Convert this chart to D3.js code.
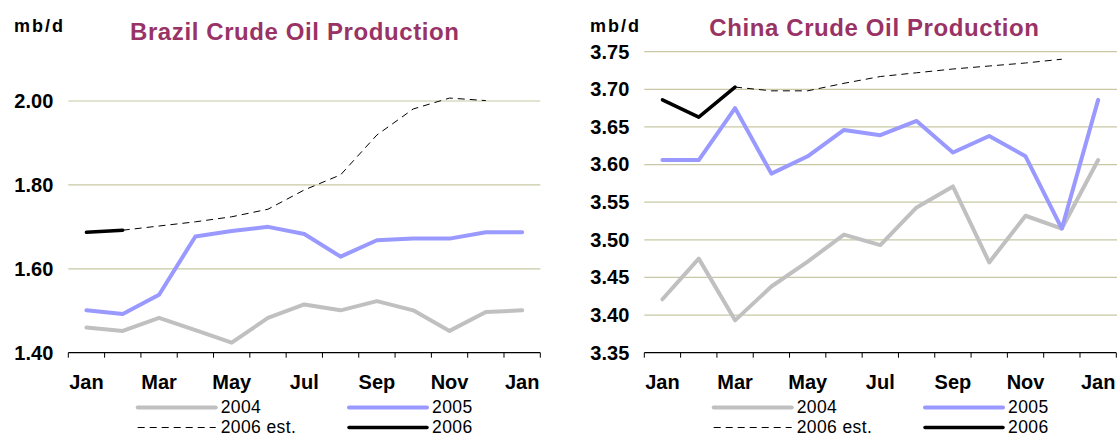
<!DOCTYPE html>
<html>
<head>
<meta charset="utf-8">
<script src="https://cdn.jsdelivr.net/npm/d3@7"></script>
<style>
  body { margin: 0; background: #fff; }
  svg { display: block; font-family: "Liberation Sans", Arial, sans-serif; }
</style>
</head>
<body>
<svg width="1117" height="437"></svg>
<script>
// month labels, Jan ... Jan of next year
const months = ["Jan", "Feb", "Mar", "Apr", "May", "Jun", "Jul", "Aug", "Sep", "Oct", "Nov", "Dec", "Jan"];

const brazil2004 = [1.460, 1.452, 1.483, 1.454, 1.424, 1.483, 1.515, 1.501, 1.523, 1.501, 1.452, 1.497, 1.501];
const brazil2005 = [1.501, 1.492, 1.538, 1.677, 1.690, 1.700, 1.683, 1.629, 1.668, 1.672, 1.672, 1.687, 1.687];
const brazil2006Est = [null, 1.692, 1.702, 1.712, 1.724, 1.742, 1.788, 1.824, 1.919, 1.981, 2.007, 2.001, null];
const brazil2006 = [1.687, 1.692, null, null, null, null, null, null, null, null, null, null, null];
const brazilTicks = [1.40, 1.60, 1.80, 2.00];

const china2004 = [3.421, 3.475, 3.393, 3.438, 3.471, 3.507, 3.493, 3.543, 3.571, 3.470, 3.532, 3.515, 3.606];
const china2005 = [3.606, 3.606, 3.675, 3.588, 3.611, 3.646, 3.639, 3.658, 3.616, 3.638, 3.611, 3.515, 3.686];
const china2006Est = [null, null, 3.703, 3.698, 3.698, 3.708, 3.717, 3.722, 3.727, 3.731, 3.735, 3.740, null];
const china2006 = [3.686, 3.663, 3.703, null, null, null, null, null, null, null, null, null, null];
const chinaTicks = [3.35, 3.40, 3.45, 3.50, 3.55, 3.60, 3.65, 3.70, 3.75];

const seriesNames = ["2004", "2005", "2006 est.", "2006"];
const seriesStyle = [
    { color: "#c0c0c0", width: 4, dash: null },
    { color: "#9999ff", width: 4, dash: null },
    { color: "#000", width: 1, dash: "7,5" },
    { color: "#000", width: 3.5, dash: null }
];

const svg = d3.select("svg");

function drawChart(opt) {
    const g = svg.append("g");

    const x = d3.scaleBand()
        .domain(d3.range(months.length))
        .range([opt.left, opt.right])
        .padding(0);

    const y = d3.scaleLinear()
        .domain(opt.domain)
        .range([352.7, opt.top]);

    // gridlines
    g.selectAll(".grid")
        .data(opt.ticks.slice(1))
        .join("line")
        .attr("x1", opt.left)
        .attr("x2", opt.gridEnd)
        .attr("y1", d => y(d))
        .attr("y2", d => y(d))
        .attr("stroke", "#c8c8a4")
        .attr("stroke-width", 1.2);

    // y axis labels
    const yAxis = g.append("g")
        .attr("transform", "translate(" + opt.left + ",0)")
        .call(d3.axisLeft(y).tickValues(opt.ticks).tickSize(0).tickPadding(15).tickFormat(d3.format(".2f")));
    yAxis.select(".domain").remove();
    yAxis.selectAll("text")
        .attr("font-size", 20)
        .attr("font-weight", "bold")
        .attr("font-family", "Liberation Sans, Arial, sans-serif")
        .attr("fill", "#000");

    // x axis: line, boundary ticks, labels every other month
    const base = y(opt.domain[0]);
    g.append("line")
        .attr("x1", opt.left).attr("x2", opt.right)
        .attr("y1", base).attr("y2", base)
        .attr("stroke", "#000").attr("stroke-width", 1.2);

    const bounds = d3.range(months.length + 1).map(i => i < months.length ? x(i) : opt.right);
    g.selectAll(".xtick")
        .data(bounds)
        .join("line")
        .attr("x1", d => d).attr("x2", d => d)
        .attr("y1", base).attr("y2", base + 5)
        .attr("stroke", "#000");

    g.selectAll(".xlabel")
        .data(months.map((m, i) => ({ m, i })).filter(d => d.i % 2 === 0))
        .join("text")
        .attr("x", d => x(d.i) + x.bandwidth() / 2)
        .attr("y", 389)
        .attr("text-anchor", "middle")
        .attr("font-size", 20)
        .attr("font-weight", "bold")
        .text(d => d.m);

    // lines
    const line = d3.line()
        .defined(d => d.v != null)
        .x(d => x(d.i) + x.bandwidth() / 2)
        .y(d => y(d.v));

    opt.series.forEach(function(s, k) {
        const st = seriesStyle[k];
        g.append("path")
            .datum(s.map((v, i) => ({ v, i })))
            .attr("d", line)
            .attr("fill", "none")
            .attr("stroke", st.color)
            .attr("stroke-width", st.width)
            .attr("stroke-dasharray", st.dash)
            .attr("stroke-linejoin", "round")
            .attr("stroke-linecap", st.dash ? "butt" : "round");
    });

    // unit and title
    g.append("text")
        .attr("x", opt.unitX).attr("y", 32.3)
        .attr("font-size", 18).attr("font-weight", "bold")
        .attr("letter-spacing", 2)
        .text("mb/d");

    g.append("text")
        .attr("x", opt.titleX).attr("y", opt.titleY)
        .attr("font-size", 24).attr("font-weight", "bold")
        .attr("letter-spacing", 0.6)
        .attr("fill", "#993366")
        .text(opt.title);

    // legend
    const lx = opt.left + 69.4;
    const cols = [lx, lx + 211.3];
    const rows = [407.5, 427.5];
    seriesNames.forEach(function(name, k) {
        const st = seriesStyle[k];
        const cx = cols[k % 2];
        const cy = rows[Math.floor(k / 2)];
        g.append("line")
            .attr("x1", cx).attr("x2", cx + 78)
            .attr("y1", cy).attr("y2", cy)
            .attr("stroke", st.color)
            .attr("stroke-width", st.width)
            .attr("stroke-dasharray", st.dash)
            .attr("stroke-linecap", st.dash ? "butt" : "round");
        g.append("text")
            .attr("x", cx + 83).attr("y", cy + 5.5)
            .attr("font-size", 17.5)
            .attr("letter-spacing", 0.4)
            .text(name);
    });
}

drawChart({
    left: 68.3, right: 540.3, gridEnd: 540.3,
    top: 352.7 - 0.7 * 419.5,
    domain: [1.40, 2.10],
    ticks: brazilTicks,
    series: [brazil2004, brazil2005, brazil2006Est, brazil2006],
    title: "Brazil Crude Oil Production", titleX: 130, titleY: 40,
    unitX: 14
});

drawChart({
    left: 644.3, right: 1116.3, gridEnd: 1117,
    top: 51.7,
    domain: [3.35, 3.75],
    ticks: chinaTicks,
    series: [china2004, china2005, china2006Est, china2006],
    title: "China Crude Oil Production", titleX: 709.3, titleY: 36,
    unitX: 590
});
</script>
</body>
</html>
